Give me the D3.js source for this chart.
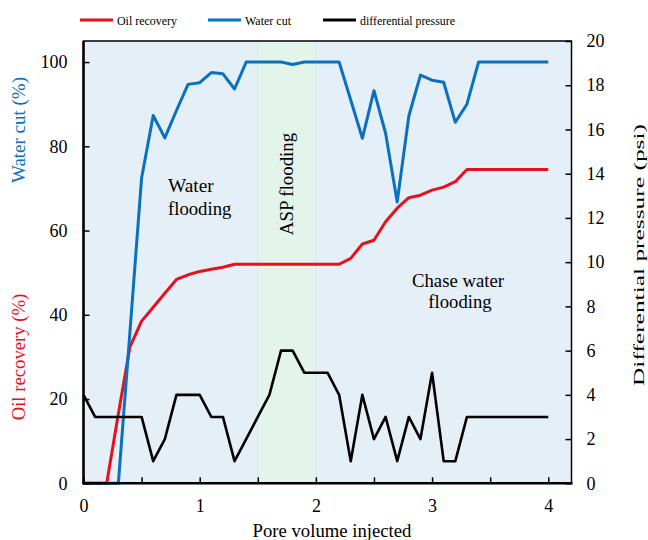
<!DOCTYPE html>
<html>
<head>
<meta charset="utf-8">
<script src="https://cdn.jsdelivr.net/npm/d3@7"></script>
<style>
  html, body { margin: 0; padding: 0; background: #fff; }
  svg text { font-family: "Times New Roman", "Liberation Serif", Tinos, "DejaVu Serif", serif !important; }
</style>
</head>
<body>
<svg id="chart" width="648" height="540"></svg>
<script>
// Pore volume injected (PV), sampled every 0.1 PV
const pv = d3.range(0, 41).map(i => +(i / 10).toFixed(1));

// Oil recovery (%)
const oilRecovery = [
  0, 0, 0, 16.5, 32.4, 38.5, 41.8, 45.1, 48.4, 49.5,
  50.3, 50.8, 51.3, 52, 52, 52, 52, 52, 52, 52,
  52, 52, 52, 53.4, 56.8, 57.7, 62.1, 65.3, 67.8, 68.4,
  69.6, 70.3, 71.6, 74.5, 74.5, 74.5, 74.5, 74.5, 74.5, 74.5, 74.5
];

// Water cut (%)
const waterCut = [
  0, 0, 0, 0, 36, 72.5, 87.3, 82, 88.5, 94.7,
  95.1, 97.5, 97.2, 93.6, 100, 100, 100, 100, 99.4, 100,
  100, 100, 100, 91, 81.9, 93.2, 83.1, 66.8, 87.2, 96.9,
  95.7, 95.2, 85.7, 90, 100, 100, 100, 100, 100, 100, 100
];

// Differential pressure (psi)
const pressure = [
  4, 3, 3, 3, 3, 3, 1, 2, 4, 4,
  4, 3, 3, 1, 2, 3, 4, 6, 6, 5,
  5, 5, 4, 1, 4, 2, 3, 1, 3, 2,
  5, 1, 1, 3, 3, 3, 3, 3, 3, 3, 3
];

// Flooding stages (PV ranges)
const stages = [
  { name: "water", from: 0, to: 1.5 },
  { name: "asp", from: 1.5, to: 2.0 },
  { name: "chase", from: 2.0, to: 4.2 }
];

const xTicks = [0, 0.5, 1, 1.5, 2, 2.5, 3, 3.5, 4];
const xTickLabels = [0, 1, 2, 3, 4];
const leftTicks = [0, 20, 40, 60, 80, 100];
const rightTicks = [0, 2, 4, 6, 8, 10, 12, 14, 16, 18, 20];

const legendItems = [
  { label: "Oil recovery", color: "#e8101c", width: 60 },
  { label: "Water cut", color: "#0a70c0", width: 46 },
  { label: "differential pressure", color: "#000000", width: 95 }
];

const RED = "#e8101c", BLUE = "#0a70c0";

// Times-style advance widths (per 1000 em) used to lay text out at its serif width
const ADV = {
  " ": 250, "(": 333, ")": 333, "%": 833,
  A: 722, C: 667, D: 722, O: 722, P: 556, S: 556, W: 944,
  a: 444, c: 444, d: 500, e: 444, f: 333, g: 500, h: 500, i: 278, j: 278, l: 278,
  m: 778, n: 500, o: 500, p: 500, r: 333, s: 389, t: 278, u: 500, v: 500, w: 722, y: 500
};
const tw = (str, size) => [...str].reduce((s, ch) => s + (ADV[ch] ?? 500), 0) * size / 1000;
function fit(sel, size, width) {
  sel.each(function () {
    const t = this.textContent;
    if (!t) return;
    d3.select(this)
      .attr("font-size", size)
      .attr("textLength", width ?? tw(t, size))
      .attr("lengthAdjust", "spacingAndGlyphs");
  });
  return sel;
}

const svg = d3.select("#chart");
const m = { left: 83.5, right: 571.5, top: 41, bottom: 483.3 };

const x = d3.scaleLinear().domain([0, 4.2]).range([m.left, m.right]);
const yL = d3.scaleLinear().domain([0, 105]).range([m.bottom, m.top]);
const yR = d3.scaleLinear().domain([0, 20]).range([m.bottom, m.top]);

// Plot background and stage shading
const bgFill = { water: "#e5eff8", asp: "#e3f4ea", chase: "#e5eff8" };
svg.append("g").selectAll("rect").data(stages).join("rect")
  .attr("x", d => x(d.from))
  .attr("y", m.top)
  .attr("width", d => x(d.to) - x(d.from))
  .attr("height", m.bottom - m.top)
  .attr("fill", d => bgFill[d.name]);

// Stage boundary hairlines
svg.append("g").selectAll("line").data([1.5, 2.0]).join("line")
  .attr("x1", d => x(d)).attr("x2", d => x(d))
  .attr("y1", m.top).attr("y2", m.bottom)
  .attr("stroke", "#cfe8e6").attr("stroke-width", 0.8);

// Stage labels
const TS = 18.7;
fit(svg.append("text").attr("x", 168).attr("y", 192).text("Water"), TS);
fit(svg.append("text").attr("x", 168).attr("y", 215).text("flooding"), TS);
fit(svg.append("text")
  .attr("transform", `translate(${x(1.75) + 6},184) rotate(-90)`)
  .attr("text-anchor", "middle").text("ASP flooding"), TS);
fit(svg.append("text").attr("x", 458).attr("y", 287).attr("text-anchor", "middle").text("Chase water"), TS);
fit(svg.append("text").attr("x", 460).attr("y", 308).attr("text-anchor", "middle").text("flooding"), TS);

// Series lines
const line = (yScale, vals) => d3.line()
  .x((d, i) => x(pv[i]))
  .y(d => yScale(d))(vals);

svg.append("path").attr("d", line(yL, oilRecovery))
  .attr("fill", "none").attr("stroke", RED).attr("stroke-width", 3).attr("stroke-linejoin", "round");
svg.append("path").attr("d", line(yL, waterCut))
  .attr("fill", "none").attr("stroke", BLUE).attr("stroke-width", 3).attr("stroke-linejoin", "round");
svg.append("path").attr("d", line(yR, pressure))
  .attr("fill", "none").attr("stroke", "#000").attr("stroke-width", 2.6).attr("stroke-linejoin", "round");

// Axes (ticks pointing inward)
const fs = 18;
const bottomAxis = d3.axisBottom(x).tickValues(xTicks).tickSizeInner(-6).tickSizeOuter(0)
  .tickFormat(d => xTickLabels.includes(d) ? d3.format("d")(d) : "");
const gB = svg.append("g").attr("transform", `translate(0,${m.bottom})`).call(bottomAxis);
fit(gB.selectAll("text").attr("dy", "1.45em").attr("fill", "#000"), fs);

const leftAxis = d3.axisLeft(yL).tickValues(leftTicks).tickSizeInner(-6).tickSizeOuter(0);
const gL = svg.append("g").attr("transform", `translate(${m.left},0)`).call(leftAxis);
fit(gL.selectAll("text").attr("x", -16).attr("fill", "#000"), fs);

const rightAxis = d3.axisRight(yR).tickValues(rightTicks).tickSizeInner(-6).tickSizeOuter(0);
const gR = svg.append("g").attr("transform", `translate(${m.right},0)`).call(rightAxis);
fit(gR.selectAll("text").attr("x", 15).attr("fill", "#000"), fs);

[gB, gL, gR].forEach(g => {
  g.select(".domain").remove();
  g.selectAll(".tick line").attr("stroke", "#000").attr("stroke-width", 1.5);
});

// Plot frame
svg.append("rect")
  .attr("x", m.left).attr("y", m.top)
  .attr("width", m.right - m.left).attr("height", m.bottom - m.top)
  .attr("fill", "none").attr("stroke", "#000").attr("stroke-width", 1.5);
svg.append("line").attr("x1", m.left).attr("x2", m.left).attr("y1", m.top).attr("y2", m.bottom + 1)
  .attr("stroke", "#000").attr("stroke-width", 2.5);
svg.append("line").attr("x1", m.left - 1).attr("x2", m.right + 1).attr("y1", m.bottom).attr("y2", m.bottom)
  .attr("stroke", "#000").attr("stroke-width", 2.5);

// Axis titles
fit(svg.append("text").attr("x", 332).attr("y", 537).attr("text-anchor", "middle").text("Pore volume injected"), TS);
fit(svg.append("text").attr("transform", "translate(25,130) rotate(-90)").attr("text-anchor", "middle")
  .attr("fill", BLUE).text("Water cut (%)"), TS);
fit(svg.append("text").attr("transform", "translate(25,357) rotate(-90)").attr("text-anchor", "middle")
  .attr("fill", RED).text("Oil recovery (%)"), TS);
fit(svg.append("text").attr("transform", "translate(644,255) rotate(-90)").attr("text-anchor", "middle")
  .text("Differential pressure (psi)"), 15, 262);

// Legend
const legendX = [80, 208, 323];
const lg = svg.append("g").selectAll("g").data(legendItems).join("g")
  .attr("transform", (d, i) => `translate(${legendX[i]},20)`);
lg.append("line").attr("x1", 0).attr("x2", 33).attr("y1", 0).attr("y2", 0)
  .attr("stroke", d => d.color).attr("stroke-width", 3);
lg.append("text").attr("x", 37).attr("y", 5)
  .text(d => d.label)
  .each(function (d) { fit(d3.select(this), 13.5, d.width); });
</script>
</body>
</html>
